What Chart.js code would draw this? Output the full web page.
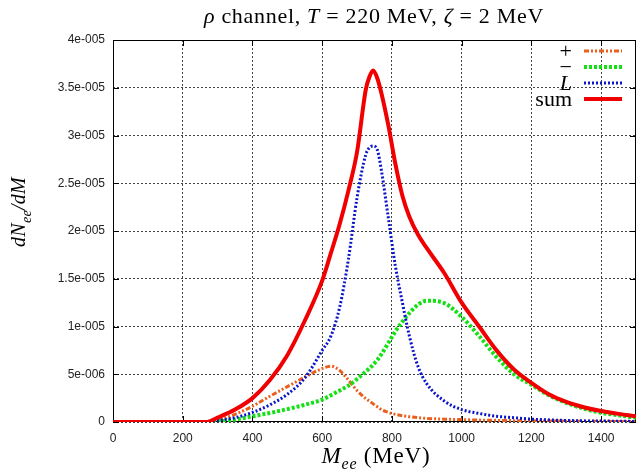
<!DOCTYPE html>
<html>
<head>
<meta charset="utf-8">
<script src="https://cdn.jsdelivr.net/npm/chart.js@4.4.1/dist/chart.umd.min.js"></script>
<style>
  html, body { margin: 0; padding: 0; background: #fff; }
  #wrap { width: 636px; height: 472px; }
</style>
</head>
<body>
<div id="wrap"><canvas id="c" width="636" height="472"></canvas></div>
<script>
/* =========================
   資料區 (dN/dM in units of 1e-6)
========================= */
const massMeV = [0, 100, 200, 270, 300, 350, 400, 450, 500, 550, 600, 625, 650, 675, 700, 725, 735, 746, 758, 770, 790, 810, 830, 850, 875, 900, 950, 1000, 1050, 1100, 1150, 1200, 1250, 1300, 1350, 1400, 1450, 1500];

const plusVals  = [0, 0, 0, 0, 0.2, 0.8, 1.65, 2.7, 3.7, 4.7, 5.6, 5.85, 5.4, 4.4, 3.3, 2.45, 2.2, 1.9, 1.6, 1.3, 1.0, 0.8, 0.65, 0.55, 0.45, 0.38, 0.3, 0.25, 0.2, 0.17, 0.14, 0.12, 0.1, 0.09, 0.08, 0.07, 0.06, 0.05];
const minusVals = [0, 0, 0, 0, 0.05, 0.25, 0.6, 0.95, 1.35, 1.8, 2.35, 2.8, 3.3, 3.8, 4.5, 5.3, 5.6, 6.0, 6.5, 7.1, 8.3, 9.5, 10.5, 11.4, 12.3, 12.7, 12.45, 11.0, 9.0, 6.8, 5.0, 3.9, 2.8, 2.0, 1.4, 0.97, 0.7, 0.45];
const longVals  = [0, 0, 0, 0, 0.15, 0.45, 1.0, 1.8, 2.9, 4.6, 7.5, 9.0, 12.0, 17.0, 23.5, 28.0, 28.7, 28.9, 28.5, 26.3, 21.3, 16.3, 12.5, 9.0, 5.8, 4.0, 2.2, 1.3, 0.9, 0.6, 0.45, 0.3, 0.22, 0.16, 0.12, 0.1, 0.08, 0.06];
const sumVals   = [0, 0, 0, 0, 0.45, 1.3, 2.5, 4.4, 7.0, 10.6, 14.8, 17.7, 20.7, 24.2, 28.3, 34.8, 36.1, 36.8, 36.0, 34.4, 31.0, 27.0, 23.7, 21.5, 19.6, 18.2, 15.6, 12.5, 10.0, 7.5, 5.5, 4.1, 2.9, 2.1, 1.55, 1.15, 0.85, 0.6];

const xTicks = [0, 200, 400, 600, 800, 1000, 1200, 1400];
const yTicks = [0, 5, 10, 15, 20, 25, 30, 35, 40];
const yTickLabels = ["0", "5e-006", "1e-005", "1.5e-005", "2e-005", "2.5e-005", "3e-005", "3.5e-005", "4e-005"];

const SERIF = '"Liberation Serif", "DejaVu Serif", serif';
const SANS = '"Liberation Sans", Arial, sans-serif';

// 文字片段：i = italic, sub = 下標
const titleRuns = [{ t: "ρ", i: 1 }, { t: " channel, " }, { t: "T", i: 1 }, { t: " = 220 MeV, " }, { t: "ζ", i: 1 }, { t: " = 2 MeV" }];
const yTitleRuns = [{ t: "dN", i: 1 }, { t: "ee", i: 1, sub: 1 }, { t: "/", i: 1 }, { t: "dM", i: 1 }];
const xTitleRuns = [{ t: "M", i: 1 }, { t: "ee", i: 1, sub: 1 }, { t: " (MeV)" }];
const legendRuns = [[{ t: "+" }], [{ t: "−" }], [{ t: "L", i: 1 }], [{ t: "sum" }]];

function runFont(r, size) {
  return (r.i ? "italic " : "") + (r.sub ? Math.round(size * 0.7) : size) + "px " + SERIF;
}

function drawRuns(ctx, runs, x, y, size, align, spacing) {
  ctx.letterSpacing = (spacing || 0) + "px";
  let w = 0;
  runs.forEach(r => { ctx.font = runFont(r, size); w += ctx.measureText(r.t).width; });
  let cx = align === "center" ? x - w / 2 : align === "right" ? x - w : x;
  ctx.textAlign = "left";
  ctx.textBaseline = "alphabetic";
  runs.forEach(r => {
    ctx.font = runFont(r, size);
    ctx.fillText(r.t, cx, y + (r.sub ? size * 0.28 : 0));
    cx += ctx.measureText(r.t).width;
  });
  ctx.letterSpacing = "0px";
}

// 外框、內向刻度
const framePlugin = {
  id: "frame",
  beforeDatasetsDraw(chart) {
    const { ctx, chartArea: a, scales } = chart;
    ctx.save();
    ctx.strokeStyle = "#000";
    ctx.lineWidth = 1;
    ctx.setLineDash([]);
    ctx.strokeRect(a.left + 0.5, a.top + 0.5, a.right - a.left - 1, a.bottom - a.top - 1);
    ctx.beginPath();
    xTicks.forEach(v => {
      const px = Math.round(scales.x.getPixelForValue(v)) + 0.5;
      ctx.moveTo(px, a.bottom); ctx.lineTo(px, a.bottom - 6);
      ctx.moveTo(px, a.top); ctx.lineTo(px, a.top + 6);
    });
    yTicks.forEach(v => {
      const py = Math.round(scales.y.getPixelForValue(v)) + 0.5;
      ctx.moveTo(a.left, py); ctx.lineTo(a.left + 6, py);
      ctx.moveTo(a.right, py); ctx.lineTo(a.right - 6, py);
    });
    ctx.stroke();
    ctx.restore();
  },
  afterDraw(chart) {
    const { ctx } = chart;
    ctx.save();
    ctx.fillStyle = "#000";
    drawRuns(ctx, titleRuns, 374, 23, 22, "center", 0.7);
    drawRuns(ctx, xTitleRuns, 376, 463, 23, "center", 0.8);
    ctx.translate(25, 212);
    ctx.rotate(-Math.PI / 2);
    drawRuns(ctx, yTitleRuns, 0, 0, 20, "center", 0.3);
    ctx.restore();

    // 圖例：文字在左、線段在右
    ctx.save();
    chart.data.datasets.forEach((ds, k) => {
      const rowY = 51 + k * 16;
      ctx.fillStyle = "#000";
      drawRuns(ctx, legendRuns[k], 572, rowY + 7, 22, "right");
      ctx.strokeStyle = ds.borderColor;
      ctx.lineWidth = ds.borderWidth;
      ctx.setLineDash(ds.borderDash || []);
      ctx.beginPath();
      ctx.moveTo(584, rowY);
      ctx.lineTo(622, rowY);
      ctx.stroke();
    });
    ctx.restore();
  }
};

const pts = vals => massMeV.map((m, k) => ({ x: m, y: vals[k] }));

new Chart(document.getElementById("c"), {
  type: "line",
  data: {
    datasets: [
      { label: "+", data: pts(plusVals), borderColor: "rgb(235,95,30)", borderWidth: 3, borderDash: [5, 2, 2, 2, 2, 2], order: 3 },
      { label: "−", data: pts(minusVals), borderColor: "rgb(20,225,20)", borderWidth: 4, borderDash: [3, 2], order: 2 },
      { label: "L", data: pts(longVals), borderColor: "rgb(10,20,200)", borderWidth: 3, borderDash: [2, 2], order: 1 },
      { label: "sum", data: pts(sumVals), borderColor: "rgb(240,0,0)", borderWidth: 4, order: 0 }
    ]
  },
  options: {
    responsive: false,
    animation: false,
    devicePixelRatio: 1,
    layout: { padding: { top: 40, right: 0, left: 0, bottom: 0 } },
    elements: {
      point: { radius: 0 },
      line: { cubicInterpolationMode: "monotone", fill: false }
    },
    plugins: { legend: { display: false }, title: { display: false }, tooltip: { enabled: false } },
    scales: {
      x: {
        type: "linear",
        min: 0,
        max: 1500,
        afterBuildTicks: s => { s.ticks = xTicks.map(v => ({ value: v })); },
        afterFit: s => { s.height = 50; },
        grid: { color: "#444", lineWidth: 1, drawTicks: false },
        border: { display: false, dash: [2, 2] },
        ticks: { padding: 9, color: "#222", font: { family: SANS, size: 12 }, maxRotation: 0, callback: v => String(v) }
      },
      y: {
        type: "linear",
        min: 0,
        max: 40,
        afterBuildTicks: s => { s.ticks = yTicks.map(v => ({ value: v })); },
        afterFit: s => { s.width = 113; },
        grid: { color: "#444", lineWidth: 1, drawTicks: false },
        border: { display: false, dash: [2, 2] },
        ticks: {
          padding: 8, color: "#222", font: { family: SANS, size: 12 },
          callback: v => yTickLabels[yTicks.indexOf(v)]
        }
      }
    }
  },
  plugins: [framePlugin]
});
</script>
</body>
</html>
